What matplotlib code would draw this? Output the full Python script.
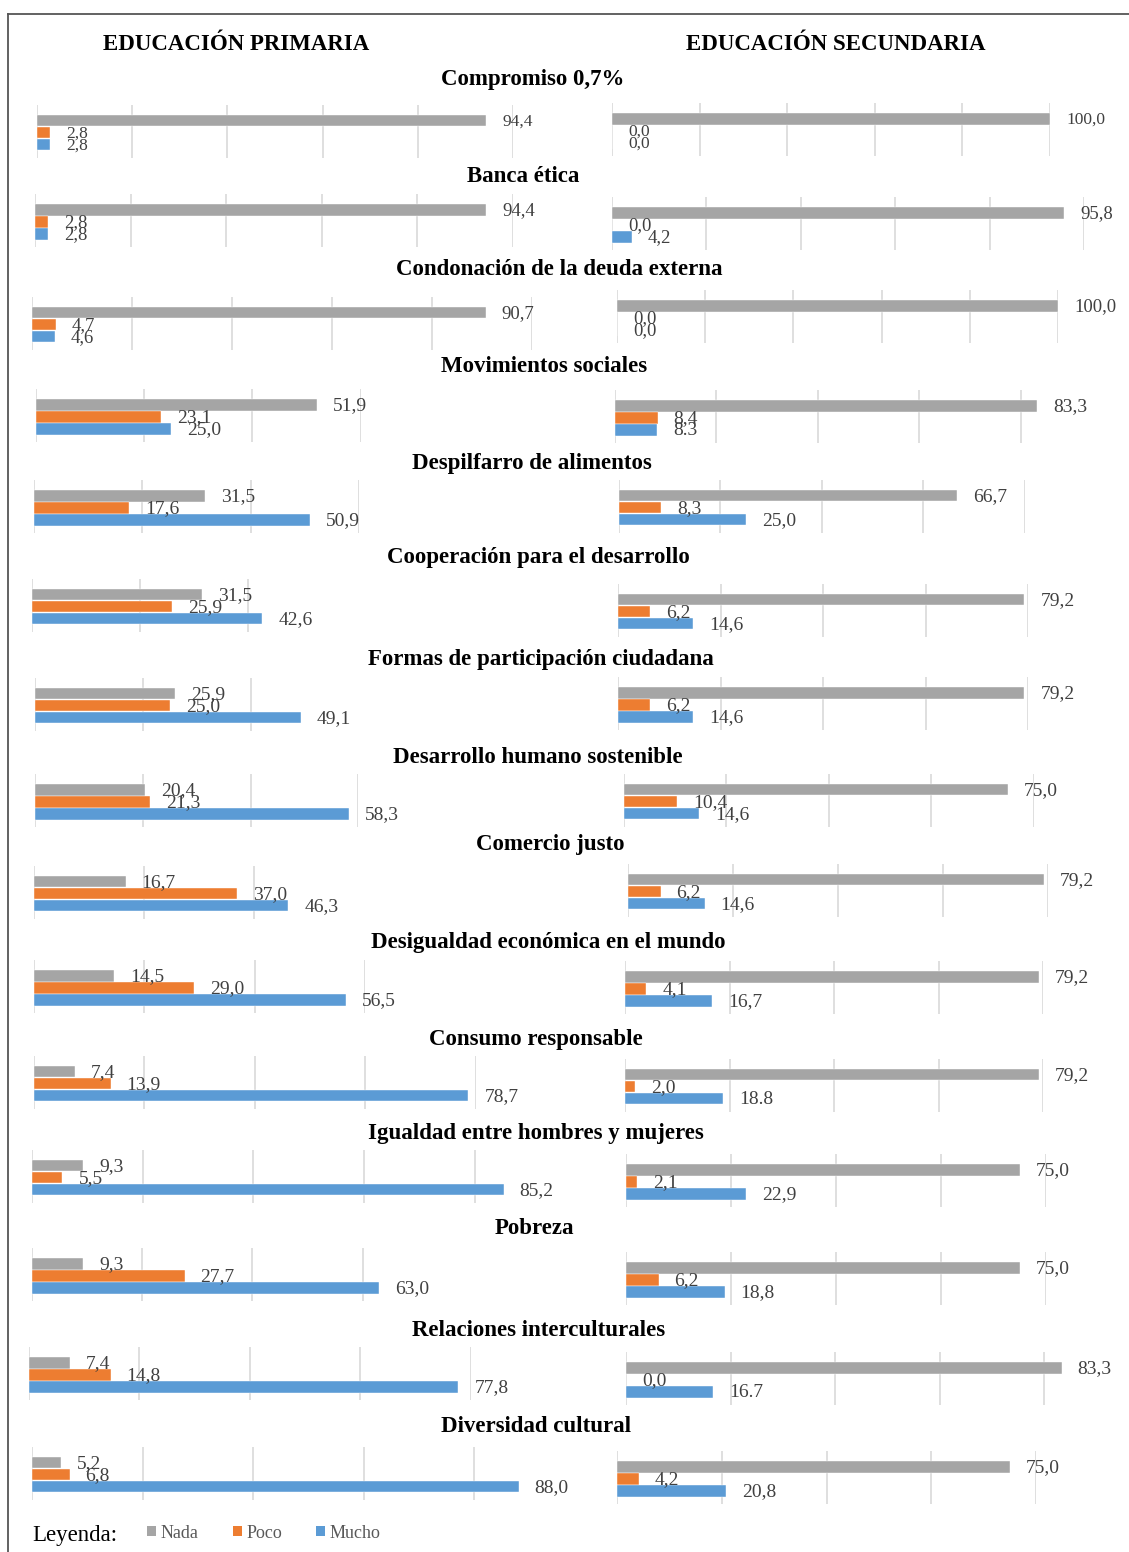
import matplotlib
matplotlib.use("Agg")
import matplotlib.pyplot as plt
from matplotlib.lines import Line2D
from matplotlib.patches import Patch

# ---------------- data ----------------
topics = ["Compromiso 0,7%", "Banca ética", "Condonación de la deuda externa",
          "Movimientos sociales", "Despilfarro de alimentos",
          "Cooperación para el desarrollo", "Formas de participación ciudadana",
          "Desarrollo humano sostenible", "Comercio justo",
          "Desigualdad económica en el mundo", "Consumo responsable",
          "Igualdad entre hombres y mujeres", "Pobreza",
          "Relaciones interculturales", "Diversidad cultural"]
series = ["Nada", "Poco", "Mucho"]
headers = ["EDUCACIÓN PRIMARIA", "EDUCACIÓN SECUNDARIA"]

prim_nada = [94.4, 94.4, 90.7, 51.9, 31.5, 31.5, 25.9, 20.4, 16.7, 14.5, 7.4, 9.3, 9.3, 7.4, 5.2]
prim_poco = [2.8, 2.8, 4.7, 23.1, 17.6, 25.9, 25.0, 21.3, 37.0, 29.0, 13.9, 5.5, 27.7, 14.8, 6.8]
prim_mucho = [2.8, 2.8, 4.6, 25.0, 50.9, 42.6, 49.1, 58.3, 46.3, 56.5, 78.7, 85.2, 63.0, 77.8, 88.0]
sec_nada = [100.0, 95.8, 100.0, 83.3, 66.7, 79.2, 79.2, 75.0, 79.2, 79.2, 79.2, 75.0, 75.0, 83.3, 75.0]
sec_poco = [0.0, 0.0, 0.0, 8.4, 8.3, 6.2, 6.2, 10.4, 6.2, 4.1, 2.0, 2.1, 6.2, 0.0, 4.2]
sec_mucho = [0.0, 4.2, 0.0, 8.3, 25.0, 14.6, 14.6, 14.6, 14.6, 16.7, 18.8, 22.9, 18.8, 16.7, 20.8]
# labels printed with a dot instead of a comma in the original: (topic, side, series)
dot_labels = {(3, 1, 2), (10, 1, 2), (13, 1, 2)}

# ---------------- layout (pixels) ----------------
W, H = 1129, 1552
prim_left = [37, 35, 32, 36, 34, 32, 35, 35, 34, 34, 34, 32, 32, 29, 32]
prim_ppu = [4.76, 4.78, 5.0, 5.41, 5.42, 5.41, 5.41, 5.39, 5.49, 5.52, 5.52, 5.535, 5.51, 5.52, 5.53]
prim_gmax = [100, 100, 100, 60, 60, 40, 40, 60, 40, 60, 80, 80, 60, 80, 80]
prim_top = [120.5, 210, 312.5, 405.3, 496, 594.5, 693.5, 790, 881.5, 976, 1071.5, 1165.5, 1264, 1363, 1462.5]
sec_left = [612, 612, 617, 615, 619, 618, 618, 624, 628, 625, 625, 626, 626, 626, 617]
sec_ppu = [4.38, 4.72, 4.41, 5.07, 5.07, 5.13, 5.13, 5.12, 5.25, 5.23, 5.23, 5.25, 5.25, 5.23, 5.24]
sec_gmax = [100, 100, 100, 80, 80, 80, 80, 80, 80, 80, 80, 80, 80, 80, 80]
sec_top = [119, 213, 306, 406, 495.5, 599.5, 693, 789.5, 879.5, 977, 1074.5, 1170, 1268, 1368, 1466.7]
title_y = [79, 176, 269.5, 367, 463, 557, 659, 757, 845, 943, 1039, 1133, 1229, 1330, 1427]
title_x = [533, 523, 559, 544, 532, 538, 541, 538, 550, 548, 536, 536, 534, 539, 536]
label_size = [12.5, 13.5, 13.5] + [14.0] * 12

colors = ["#A5A5A5", "#ED7D31", "#5B9BD5"]
grid_c = "#D9D9D9"
lab_c = "#404040"
SERIF = ["Liberation Serif", "DejaVu Serif"]
SPACING = 12.0
TOPM, BOTM = 16.0, 13.0

fig = plt.figure(figsize=(W / 100, H / 100), dpi=100)
fig.patch.set_facecolor("white")


def panel(vals, left, ppu, gmax, gray_y, key, fsize):
    xr = max(gmax, max(vals))
    x0 = left
    x1 = left + ppu * xr
    y0 = gray_y - TOPM
    y1 = gray_y + 2 * SPACING + BOTM
    ax = fig.add_axes([x0 / W, 1 - y1 / H, (x1 - x0) / W, (y1 - y0) / H])
    ax.set_xlim(0, xr)
    ax.set_ylim(2 + BOTM / SPACING, -TOPM / SPACING)
    ax.set_xticks(list(range(0, gmax + 1, 20)))
    ax.grid(axis="x", color=grid_c, linewidth=1.2)
    ax.set_axisbelow(True)
    ax.tick_params(left=False, bottom=False, labelleft=False, labelbottom=False)
    for s in ax.spines.values():
        s.set_visible(False)
    ax.patch.set_alpha(0)
    ypos = [0, 1, 2]
    ax.barh(ypos, vals, height=0.97, color=colors, edgecolor="white", linewidth=0.3)
    for k, (y, v) in enumerate(zip(ypos, vals)):
        txt = f"{v:.1f}"
        if (key[0], key[1], k) not in dot_labels:
            txt = txt.replace(".", ",")
        ax.annotate(txt, xy=(v, y), xytext=(11.5, -0.5), textcoords="offset points",
                    ha="left", va="center", fontsize=fsize, color=lab_c,
                    family=SERIF, annotation_clip=False)
    return ax


for i, t in enumerate(topics):
    panel([prim_nada[i], prim_poco[i], prim_mucho[i]], prim_left[i], prim_ppu[i],
          prim_gmax[i], prim_top[i], (i, 0), label_size[i])
    panel([sec_nada[i], sec_poco[i], sec_mucho[i]], sec_left[i], sec_ppu[i],
          sec_gmax[i], sec_top[i], (i, 1), label_size[i])
    fig.text(title_x[i] / W, 1 - title_y[i] / H, t, ha="center", va="center",
             fontsize=16.5, fontweight="bold", family=SERIF, color="black")

fig.text(236 / W, 1 - 44 / H, headers[0], ha="center", va="center",
         fontsize=16.5, fontweight="bold", family=SERIF)
fig.text(836 / W, 1 - 44 / H, headers[1], ha="center", va="center",
         fontsize=16.5, fontweight="bold", family=SERIF)

# frame lines
fig.add_artist(Line2D([8 / W, 8 / W], [1 - 14 / H, 0], transform=fig.transFigure,
                      color="#555555", linewidth=1.3))
fig.add_artist(Line2D([8 / W, 1], [1 - 14 / H, 1 - 14 / H], transform=fig.transFigure,
                      color="#555555", linewidth=1.3))

# legend
fig.text(32 / W, 1 - 1535 / H, "Leyenda:", ha="left", va="center",
         fontsize=16.5, family=SERIF, color="black")
handles = [Patch(facecolor=c, edgecolor="none", label=s) for c, s in zip(colors, series)]
fig.legend(handles=handles, loc="center left", bbox_to_anchor=(138 / W, 1 - 1533 / H),
           ncol=3, frameon=False, handlelength=0.5, handleheight=0.5,
           handletextpad=0.25, columnspacing=1.9, borderpad=0,
           prop={"family": SERIF, "size": 13}, labelcolor="#595959")

fig.savefig("out.png", dpi=100, facecolor="white")
